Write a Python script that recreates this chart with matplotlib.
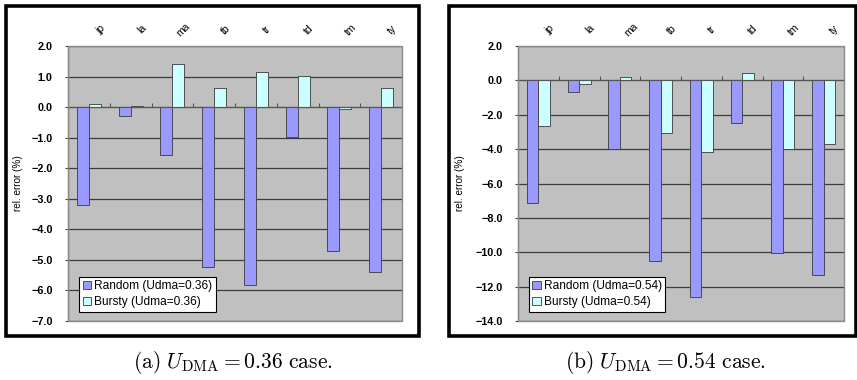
import numpy as np
import matplotlib.pyplot as plt
import matplotlib.transforms as mtransforms
from matplotlib.patches import Rectangle
from matplotlib.ticker import FuncFormatter

plt.rcParams['font.family'] = ['Liberation Sans', 'DejaVu Sans']
plt.rcParams['mathtext.fontset'] = 'cm'

# data (relative error in %)
benchmarks = ['jp', 'la', 'ma', 'tb', 'tr', 'td', 'tm', 'ty']
random_036 = [-3.2, -0.28, -1.56, -5.24, -5.81, -0.98, -4.72, -5.40]
bursty_036 = [0.10, 0.04, 1.40, 0.62, 1.15, 1.01, -0.05, 0.62]
random_054 = [-7.15, -0.68, -3.98, -10.53, -12.58, -2.48, -10.05, -11.35]
bursty_054 = [-2.68, -0.19, 0.19, -3.06, -4.17, 0.43, -3.98, -3.72]

W, H = 857, 380
fig = plt.figure(figsize=(W / 100, H / 100), dpi=100)


def px_rect(x0, y0, x1, y1):
    # pixel box (top-left origin) -> figure fraction [left, bottom, width, height]
    return [x0 / W, 1 - y1 / H, (x1 - x0) / W, (y1 - y0) / H]


def minus_fmt(v, pos):
    return ('%.1f' % v).replace('-', '\u2212')


def draw_panel(axrect, frame, rnd, bur, ylim, step, udma, caption, cap_x, ylab_x):
    # black frame around the chart
    fx0, fy0, fx1, fy1 = frame
    fig.patches.append(Rectangle((fx0 / W, 1 - fy1 / H), (fx1 - fx0) / W, (fy1 - fy0) / H,
                                 transform=fig.transFigure, fill=False, ec='black', lw=2.6))

    ax = fig.add_axes(px_rect(*axrect))
    ax.set_facecolor('#C0C0C0')
    x = np.arange(len(benchmarks))
    w = 0.285
    ax.bar(x - w / 2, rnd, w, color='#9999FF', edgecolor='#3a3a3a', lw=0.6,
           label='Random (Udma=%s)' % udma, zorder=3)
    ax.bar(x + w / 2, bur, w, color='#CCFFFF', edgecolor='#3a3a3a', lw=0.6,
           label='Bursty (Udma=%s)' % udma, zorder=3)

    ax.set_xlim(-0.5, len(benchmarks) - 0.5)
    ax.set_ylim(*ylim)
    ax.set_yticks(np.arange(ylim[0], ylim[1] + step / 2, step))
    ax.yaxis.set_major_formatter(FuncFormatter(minus_fmt))
    ax.yaxis.grid(True, color='#3c3c3c', lw=0.9)
    ax.set_axisbelow(True)
    ax.tick_params(axis='y', length=2, pad=9, labelsize=7.8, color='#404040')
    for t in ax.get_yticklabels():
        t.set_fontweight('semibold')

    # category axis crosses at zero, ticks between categories
    ax.spines['bottom'].set_position(('data', 0))
    ax.spines['bottom'].set_color('#555555')
    ax.spines['bottom'].set_zorder(4)
    ax.set_xticks(np.arange(0.5, len(benchmarks) - 0.5, 1.0))
    ax.set_xticklabels([])
    ax.tick_params(axis='x', direction='in', length=3, color='#555555')
    ax.spines['left'].set_color('#404040')
    for s in ('top', 'right'):
        ax.spines[s].set_visible(False)
    ax.add_patch(Rectangle((0, 0), 1, 1, transform=ax.transAxes, fill=False,
                           ec='#8a8a8a', lw=1.0, clip_on=False, zorder=5))

    trans = mtransforms.blended_transform_factory(ax.transData, ax.transAxes)
    for i, name in enumerate(benchmarks):
        ax.text(i + 0.27, 1.06, name, transform=trans, rotation=45,
                ha='center', va='center', fontsize=7.5)

    ax.set_ylabel('rel. error (%)', fontsize=7.2)
    ax.yaxis.set_label_coords(ylab_x, 0.5)

    leg = ax.legend(loc='lower left', bbox_to_anchor=(0.033, 0.033), borderaxespad=0,
                    fontsize=8.6, fancybox=False, framealpha=1, edgecolor='black',
                    handlelength=0.7, handleheight=0.7, handletextpad=0.25,
                    labelspacing=0.35, borderpad=0.3)
    leg.get_frame().set_linewidth(0.8)
    leg.set_zorder(6)

    fig.text(cap_x / W, 1 - 362 / H, caption, ha='center', va='center', fontsize=15.5)


draw_panel((68, 46, 402, 321), (6, 6, 419, 336), random_036, bursty_036,
           (-7.0, 2.0), 1.0, '0.36', r'$\mathrm{(a)}\ U_{\mathrm{DMA}} = 0.36\ \mathrm{case.}$',
           233, -0.135)
draw_panel((518, 46, 844, 321), (449, 6, 856, 336), random_054, bursty_054,
           (-14.0, 2.0), 2.0, '0.54', r'$\mathrm{(b)}\ U_{\mathrm{DMA}} = 0.54\ \mathrm{case.}$',
           665, -0.163)

fig.savefig('out.png', dpi=100)
